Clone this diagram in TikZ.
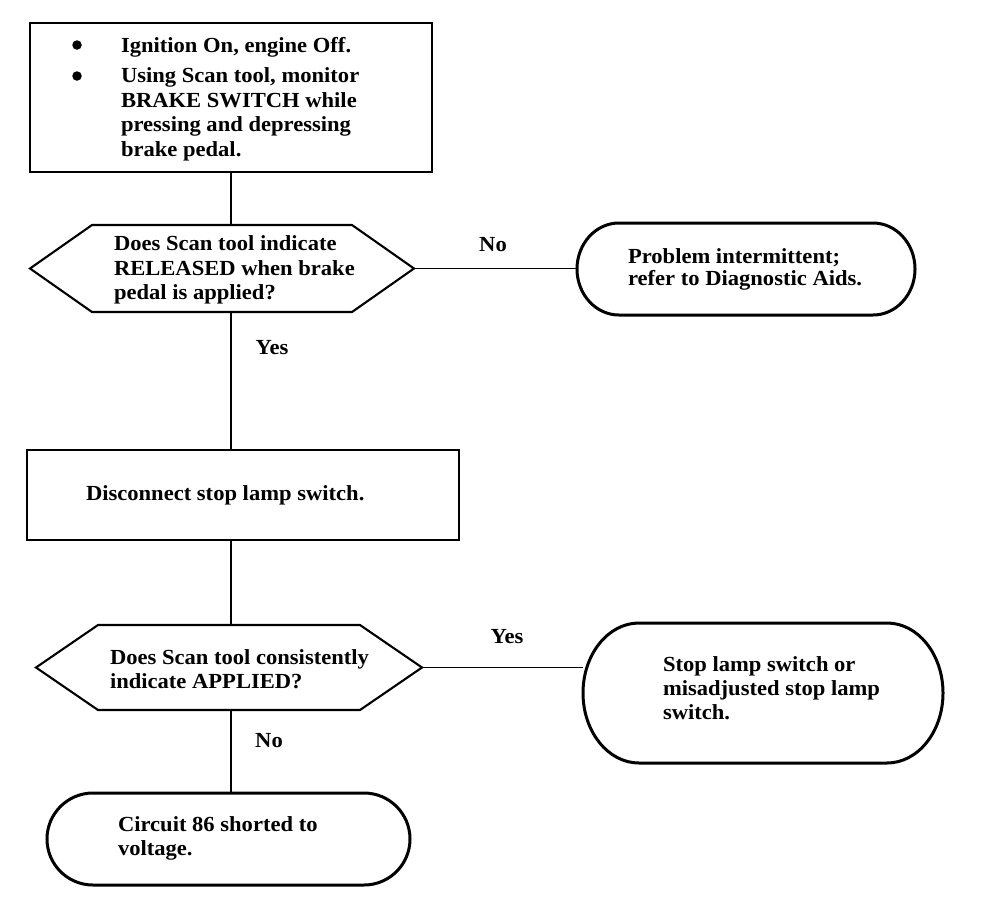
\documentclass[tikz,border=0pt]{standalone}
\usepackage{fontspec}
\setmainfont{Liberation Serif}[FakeStretch=1.05]
\begin{document}
\begin{tikzpicture}[x=1pt,y=-1pt,
  every node/.style={inner sep=0pt, outer sep=0pt},
  area/.style={rectangle, draw=none},
  boxline/.style={line width=2.4pt},
  hexline/.style={line width=2.1pt, line join=miter},
  ovalline/.style={line width=3pt, fill=white},
  conn/.style={line width=1.9pt},
  txt/.style={anchor=base west, font=\fontsize{21.5}{24.5}\selectfont\bfseries},
  lbl/.style={anchor=base, font=\fontsize{21.5}{24.5}\selectfont\bfseries},
  dot/.style={circle, fill=black, minimum size=9.5pt}
]
\useasboundingbox (0,0) rectangle (992,908);

% shape areas
\node[area, minimum width=402pt, minimum height=149pt] (b1) at (231,97.5) {};
\node[area, minimum width=384pt, minimum height=87pt] (h1) at (222,268.5) {};
\node[area, minimum width=338pt, minimum height=92pt] (o1) at (746,269) {};
\node[area, minimum width=432pt, minimum height=90pt] (b2) at (243,495) {};
\node[area, minimum width=386pt, minimum height=85pt] (h2) at (229,667.5) {};
\node[area, minimum width=360pt, minimum height=140pt] (o2) at (763,693) {};
\node[area, minimum width=363pt, minimum height=92pt] (o3) at (228.5,839) {};

% connectors
\draw[conn] (b1.south) -- (b1.south |- h1.north);
\draw[conn] (h1.east) -- (h1.east -| o1.west);
\draw[conn] (b1.south |- h1.south) -- (b1.south |- b2.north);
\draw[conn] (b1.south |- b2.south) -- (b1.south |- h2.north);
\draw[conn] (h2.east) -- (h2.east -| o2.west);
\draw[conn] (b1.south |- h2.south) -- (b1.south |- o3.north);

% outlines
\draw[boxline] (b1.north west) rectangle (b1.south east);
\draw[boxline] (b2.north west) rectangle (b2.south east);
\draw[hexline] (h1.west) -- ([xshift=62pt]h1.north west) -- ([xshift=-62pt]h1.north east)
  -- (h1.east) -- ([xshift=-62pt]h1.south east) -- ([xshift=62pt]h1.south west) -- cycle;
\draw[hexline] (h2.west) -- ([xshift=62pt]h2.north west) -- ([xshift=-62pt]h2.north east)
  -- (h2.east) -- ([xshift=-62pt]h2.south east) -- ([xshift=62pt]h2.south west) -- cycle;
\draw[ovalline] ([xshift=42pt]o1.north west) -- ([xshift=-42pt]o1.north east)
  arc[start angle=90,end angle=-90,x radius=42pt,y radius=46pt]
  -- ([xshift=42pt]o1.south west)
  arc[start angle=270,end angle=90,x radius=42pt,y radius=46pt] -- cycle;
\draw[ovalline] ([xshift=56pt]o2.north west) -- ([xshift=-56pt]o2.north east)
  arc[start angle=90,end angle=-90,x radius=56pt,y radius=70pt]
  -- ([xshift=56pt]o2.south west)
  arc[start angle=270,end angle=90,x radius=56pt,y radius=70pt] -- cycle;
\draw[ovalline] ([xshift=46pt]o3.north west) -- ([xshift=-46pt]o3.north east)
  arc[start angle=90,end angle=-90,x radius=46pt,y radius=46pt]
  -- ([xshift=46pt]o3.south west)
  arc[start angle=270,end angle=90,x radius=46pt,y radius=46pt] -- cycle;

% texts
\node[dot] (d1) at (77,45) {};
\node[dot] (d2) at (77,76) {};
\node[txt] (t1a) at (121,52) {Ignition On, engine Off.};
\node[txt] (t1b) at (121,82.5) {Using Scan tool, monitor};
\node[txt] (t1c) at (121,107) {BRAKE SWITCH while};
\node[txt] (t1d) at (121,131.5) {pressing and depressing};
\node[txt] (t1e) at (121,156) {brake pedal.};

\node[txt] (q1a) at (114,250.5) {Does Scan tool indicate};
\node[txt] (q1b) at (114,275) {RELEASED when brake};
\node[txt] (q1c) at (114,299.5) {pedal is applied?};

\node[lbl] (no1) at (493,251) {No};
\node[txt] (r1a) at (628,263) {Problem intermittent;};
\node[txt] (r1b) at (628,285) {refer to Diagnostic Aids.};

\node[lbl] (yes1) at (272,354) {Yes};
\node[txt] (s2) at (86,500) {Disconnect stop lamp switch.};

\node[txt] (q2a) at (110,664) {Does Scan tool consistently};
\node[txt] (q2b) at (110,688) {indicate APPLIED?};

\node[lbl] (yes2) at (507,643) {Yes};
\node[txt] (r2a) at (663,671) {Stop lamp switch or};
\node[txt] (r2b) at (663,695) {misadjusted stop lamp};
\node[txt] (r2c) at (663,719) {switch.};

\node[lbl] (no2) at (269,747) {No};
\node[txt] (r3a) at (118,831) {Circuit 86 shorted to};
\node[txt] (r3b) at (118,855) {voltage.};
\end{tikzpicture}
\end{document}
